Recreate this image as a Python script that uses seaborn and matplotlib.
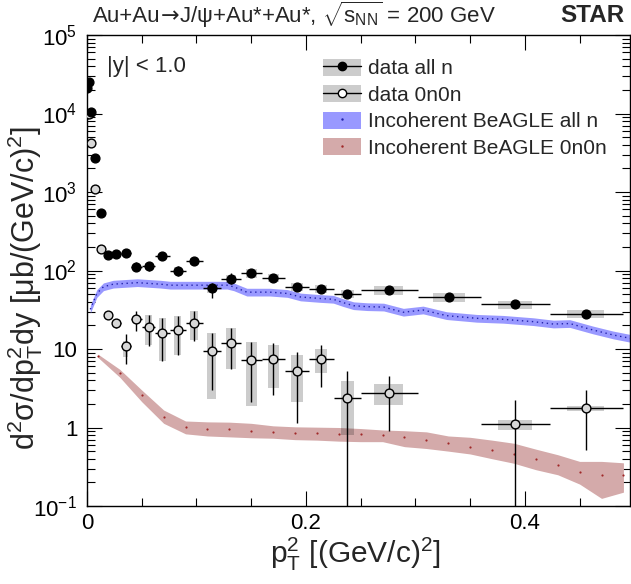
import numpy as np
import pandas as pd
import matplotlib
matplotlib.use("Agg")
import matplotlib.pyplot as plt
import matplotlib.ticker as mticker
import seaborn as sns
from matplotlib.patches import Rectangle, Patch
from matplotlib.lines import Line2D
from matplotlib.legend_handler import HandlerTuple

# pT^2 bins (bin edges and point positions)
bin_edges = [0, 0.000625, 0.0025, 0.005625, 0.01, 0.015625, 0.0225, 0.030625, 0.04,
             0.050625, 0.0625, 0.075625, 0.09, 0.105625, 0.1225, 0.140625, 0.16,
             0.180625, 0.2025, 0.225625, 0.25, 0.3025, 0.36, 0.4225, 0.49]
pt2 = [0.00016, 0.0014, 0.0039, 0.0077, 0.0127, 0.0189, 0.0264, 0.0352, 0.0452,
       0.0564, 0.0689, 0.0827, 0.0977, 0.1139, 0.1314, 0.1501, 0.1702, 0.1914,
       0.2139, 0.2377, 0.2756, 0.3306, 0.3906, 0.4556]

# data all n
alln = [21000, 25000, 10500, 2700, 545, 157, 160, 165, 112, 114, 153, 100, 131,
        59, 79, 92, 81, 62, 58, 50, 56.5, 46, 37, 28]
alln_lo = [20000, 24000, 10000, 2550, 505, 140, 145, 150, 98, 100, 137, 86, 116,
           45, 68, 82, 72, 55, 52, 45, 51, 41, 33, 24.5]
alln_hi = [22000, 26000, 11000, 2850, 585, 175, 175, 180, 127, 130, 170, 115, 147,
           70, 92, 103, 91, 70, 65, 56, 62, 51, 41, 31.5]
alln_sys = [0.06, 0.06, 0.06, 0.08, 0.08, 0.1, 0.1, 0.1, 0.1, 0.1, 0.1, 0.1, 0.1,
            0.12, 0.12, 0.12, 0.12, 0.12, 0.12, 0.12, 0.13, 0.13, 0.12, 0.12]

# data 0n0n (nan = no point)
n0n = [9900, 10000, 4250, 1080, 188, 27, 21.6, 10.9, 24, 19.2, 15.8, 17.5, 21.6,
       9.4, 11.8, 7.2, 7.4, 5.25, 7.4, 2.35, 2.77, np.nan, 1.1, 1.77]
n0n_lo = [9300, 9400, 3900, 990, 172, 24, 18.6, 6.4, 16.9, 10.9, 7.0, 8.5, 12.7,
          3.0, 5.5, 2.1, 2.6, 1.13, 3.25, 0.01, 0.89, np.nan, 0.01, 0.52]
n0n_hi = [10500, 10600, 4600, 1170, 205, 30, 24, 15.4, 30.5, 27, 24.6, 26, 30.4,
          16.2, 18.3, 12.4, 12, 9.2, 11.4, 5.2, 4.5, np.nan, 2.24, 3.0]
n0n_sys_lo = [9500, 9600, 4000, 1020, 178, 25.5, 20.5, 7.8, 21.3, 11.4, 7.0, 8.5,
              13, 2.28, 5.5, 1.9, 3.2, 2.1, 5.0, 0.8, 1.95, np.nan, 0.92, 1.6]
n0n_sys_hi = [10300, 10400, 4500, 1140, 198, 28.5, 22.7, 12.8, 27.5, 27, 24.6, 26,
              30.4, 16.2, 18.5, 12.4, 11.4, 8.4, 9.9, 3.9, 3.6, np.nan, 1.25, 1.9]

# Incoherent BeAGLE all n
blue_x = [0.003, 0.009, 0.015, 0.024, 0.046, 0.067, 0.076, 0.107, 0.128, 0.134,
          0.146, 0.167, 0.183, 0.195, 0.213, 0.225, 0.234, 0.2435, 0.256, 0.271,
          0.289, 0.307, 0.3285, 0.356, 0.380, 0.4076, 0.426, 0.441, 0.462, 0.4806, 0.496]
blue_y = [32, 51, 62, 67, 70, 67, 65, 65, 65, 62, 53, 53, 51, 46, 44, 43, 39, 35.6,
          34.6, 34.2, 29.4, 31.4, 26.6, 24.6, 23.9, 22.3, 20.8, 21.1, 17.5, 15.1, 13.7]
blue_unc = 0.12

# Incoherent BeAGLE 0n0n
pink_x = [0.01, 0.03, 0.05, 0.07, 0.09, 0.11, 0.13, 0.15, 0.17, 0.19, 0.21, 0.23,
          0.25, 0.27, 0.29, 0.31, 0.33, 0.35, 0.37, 0.39, 0.41, 0.43, 0.45, 0.47, 0.49]
pink_y = [8.2, 5.0, 2.6, 1.37, 1.02, 0.955, 0.95, 0.91, 0.87, 0.86, 0.85, 0.83,
          0.83, 0.81, 0.75, 0.69, 0.63, 0.57, 0.51, 0.46, 0.40, 0.33, 0.27, 0.25, 0.25]
pink_hi = [8.6, 5.5, 3.0, 1.67, 1.21, 1.18, 1.17, 1.13, 1.05, 1.02, 1.01, 1.0,
           0.97, 0.93, 0.91, 0.88, 0.78, 0.75, 0.69, 0.63, 0.53, 0.45, 0.37, 0.37, 0.355]
pink_lo = [7.8, 4.36, 2.13, 1.13, 0.83, 0.78, 0.76, 0.74, 0.73, 0.70, 0.69, 0.67,
           0.66, 0.66, 0.57, 0.54, 0.50, 0.46, 0.40, 0.35, 0.29, 0.25, 0.19, 0.125, 0.15]

x_ticks = [0, 0.2, 0.4]
x_tick_labels = ["0", "0.2", "0.4"]
y_ticks = [0.1, 1, 10, 100, 1e3, 1e4, 1e5]
y_tick_labels = ["$10^{-1}$", "1", "10", "$10^{2}$", "$10^{3}$", "$10^{4}$", "$10^{5}$"]

legend_labels = ["data all n", "data 0n0n", "Incoherent BeAGLE all n", "Incoherent BeAGLE 0n0n"]
title_parts = ["Au+Au", "→", "J/ψ+Au*+Au*, $\\sqrt{\\mathrm{s}_{\\mathrm{NN}}}$ = 200 GeV"]

blue_fill = "#9999ff"
blue_line = "#2222aa"
pink_fill = "#d4aaaa"
pink_dot = "#a02828"
box_col = (0, 0, 0, 0.2)

sns.set_theme(style="ticks")
plt.rcParams["font.family"] = ["Liberation Sans", "DejaVu Sans"]
plt.rcParams["mathtext.fontset"] = "custom"
plt.rcParams["mathtext.rm"] = "Liberation Sans"
plt.rcParams["mathtext.it"] = "Liberation Sans:italic"
plt.rcParams["mathtext.bf"] = "Liberation Sans:bold"

edges = np.array(bin_edges)
df = pd.DataFrame({"x": pt2, "left": edges[:-1], "right": edges[1:],
                   "alln": alln, "alln_lo": alln_lo, "alln_hi": alln_hi, "alln_sys": alln_sys,
                   "n0n": n0n, "n0n_lo": n0n_lo, "n0n_hi": n0n_hi,
                   "n0n_sys_lo": n0n_sys_lo, "n0n_sys_hi": n0n_sys_hi})
df["bw"] = df["right"] - df["left"]

fig = plt.figure(figsize=(6.31, 5.84), dpi=100)
ax = fig.add_axes([87 / 631, 78 / 584, 543 / 631, 471 / 584])

# model bands
by = np.array(blue_y)
ax.fill_between(blue_x, by / (1 + blue_unc), by * (1 + blue_unc), color=blue_fill, lw=0, zorder=1)
sns.lineplot(x=blue_x, y=blue_y, ax=ax, color=blue_line, lw=1.0, linestyle=(0, (1, 2.6)),
             sort=False, zorder=2)
ax.fill_between(pink_x, pink_lo, pink_hi, color=pink_fill, lw=0, zorder=1)
sns.scatterplot(x=pink_x, y=pink_y, ax=ax, s=2.5, color=pink_dot, linewidth=0, zorder=2)

# systematic boxes
for _, r in df.iterrows():
    w = r["bw"] / 2
    ax.add_patch(Rectangle((r["x"] - w / 2, r["alln"] * (1 - r["alln_sys"])), w,
                           r["alln"] * 2 * r["alln_sys"], facecolor=box_col, lw=0, zorder=3))
    if not np.isnan(r["n0n"]):
        ax.add_patch(Rectangle((r["x"] - w / 2, r["n0n_sys_lo"]), w,
                               r["n0n_sys_hi"] - r["n0n_sys_lo"], facecolor=box_col, lw=0, zorder=3))

# error bars
ax.errorbar(df["x"], df["alln"], xerr=[df["x"] - df["left"], df["right"] - df["x"]],
            yerr=[df["alln"] - df["alln_lo"], df["alln_hi"] - df["alln"]],
            fmt="none", ecolor="black", elinewidth=1.0, capsize=0, zorder=4)
d0 = df.dropna(subset=["n0n"])
ax.errorbar(d0["x"], d0["n0n"], xerr=[d0["x"] - d0["left"], d0["right"] - d0["x"]],
            yerr=[d0["n0n"] - d0["n0n_lo"], d0["n0n_hi"] - d0["n0n"]],
            fmt="none", ecolor="black", elinewidth=1.0, capsize=0, zorder=4)

# markers
sns.scatterplot(data=d0, x="x", y="n0n", ax=ax, marker="o", s=40, color="#d8d8d8",
                edgecolor="black", linewidth=1.0, zorder=5)
sns.scatterplot(data=df, x="x", y="alln", ax=ax, marker="o", s=40, color="black",
                edgecolor="black", linewidth=1.0, zorder=6)

ax.set_yscale("log")
ax.set_xlim(0, 0.496)
ax.set_ylim(0.1, 1e5)
ax.set_xlabel("")
ax.set_ylabel("")
ax.xaxis.set_major_locator(mticker.FixedLocator(x_ticks))
ax.xaxis.set_major_formatter(mticker.FixedFormatter(x_tick_labels))
ax.xaxis.set_minor_locator(mticker.MultipleLocator(0.05))
ax.yaxis.set_major_locator(mticker.FixedLocator(y_ticks))
ax.yaxis.set_major_formatter(mticker.FixedFormatter(y_tick_labels))
ax.yaxis.set_minor_locator(mticker.LogLocator(base=10, subs=range(2, 10), numticks=20))
ax.yaxis.set_minor_formatter(mticker.NullFormatter())
ax.tick_params(which="both", direction="in", top=True, right=True, color="black", width=0.8)
ax.tick_params(which="major", length=11, labelsize=16, labelcolor="black")
ax.tick_params(axis="x", which="major", pad=5)
ax.tick_params(axis="y", which="major", pad=7)
ax.tick_params(which="minor", length=5.5)
for s in ax.spines.values():
    s.set_color("black")
    s.set_linewidth(1.0)

ax.text(0.036, 0.934, "|y| < 1.0", transform=ax.transAxes, fontsize=16, va="center", ha="left")

handles = [
    (Patch(facecolor=box_col, lw=0), Line2D([], [], color="black", lw=1, marker="o", ms=6, mfc="black")),
    (Patch(facecolor=box_col, lw=0), Line2D([], [], color="black", lw=1, marker="o", ms=6, mfc="white")),
    (Patch(facecolor=blue_fill, lw=0), Line2D([], [], ls="none", marker=".", ms=1.5, color=blue_line)),
    (Patch(facecolor=pink_fill, lw=0), Line2D([], [], ls="none", marker=".", ms=1.5, color=pink_dot)),
]
ax.legend(handles, legend_labels, handler_map={tuple: HandlerTuple(ndivide=1, pad=0)},
          loc="upper left", bbox_to_anchor=(0.435, 0.95), frameon=False, fontsize=15,
          handlelength=1.8, handleheight=0.9, handletextpad=0.35, labelspacing=0.32,
          borderpad=0, borderaxespad=0)

# title pieces: arrow in DejaVu Sans for a longer arrow
renderer = fig.canvas.get_renderer()
xpos = 93 / 631
ybase = 1 - 22.5 / 584
for i, part in enumerate(title_parts):
    fam = ["DejaVu Sans"] if i == 1 else ["Liberation Sans", "DejaVu Sans"]
    t = fig.text(xpos, ybase, part, ha="left", va="baseline", fontsize=16, family=fam)
    bb = t.get_window_extent(renderer)
    xpos = bb.x1 / fig.bbox.width
fig.text(624 / 631, ybase, "STAR", ha="right", va="baseline", fontsize=17.5, weight="bold")

fig.text(355 / 631, 1 - 554 / 584, "$\\mathrm{p}_{\\mathrm{T}}^{2}$ [(GeV/c)$^{2}$]",
         ha="center", va="center", fontsize=21.5)
fig.text(25 / 631, 1 - 288 / 584, "d$^{2}$σ/dp$_{\\mathrm{T}}^{2}$dy [μb/(GeV/c)$^{2}$]",
         ha="center", va="center", rotation=90, fontsize=22)

fig.savefig("out.png", dpi=100)
